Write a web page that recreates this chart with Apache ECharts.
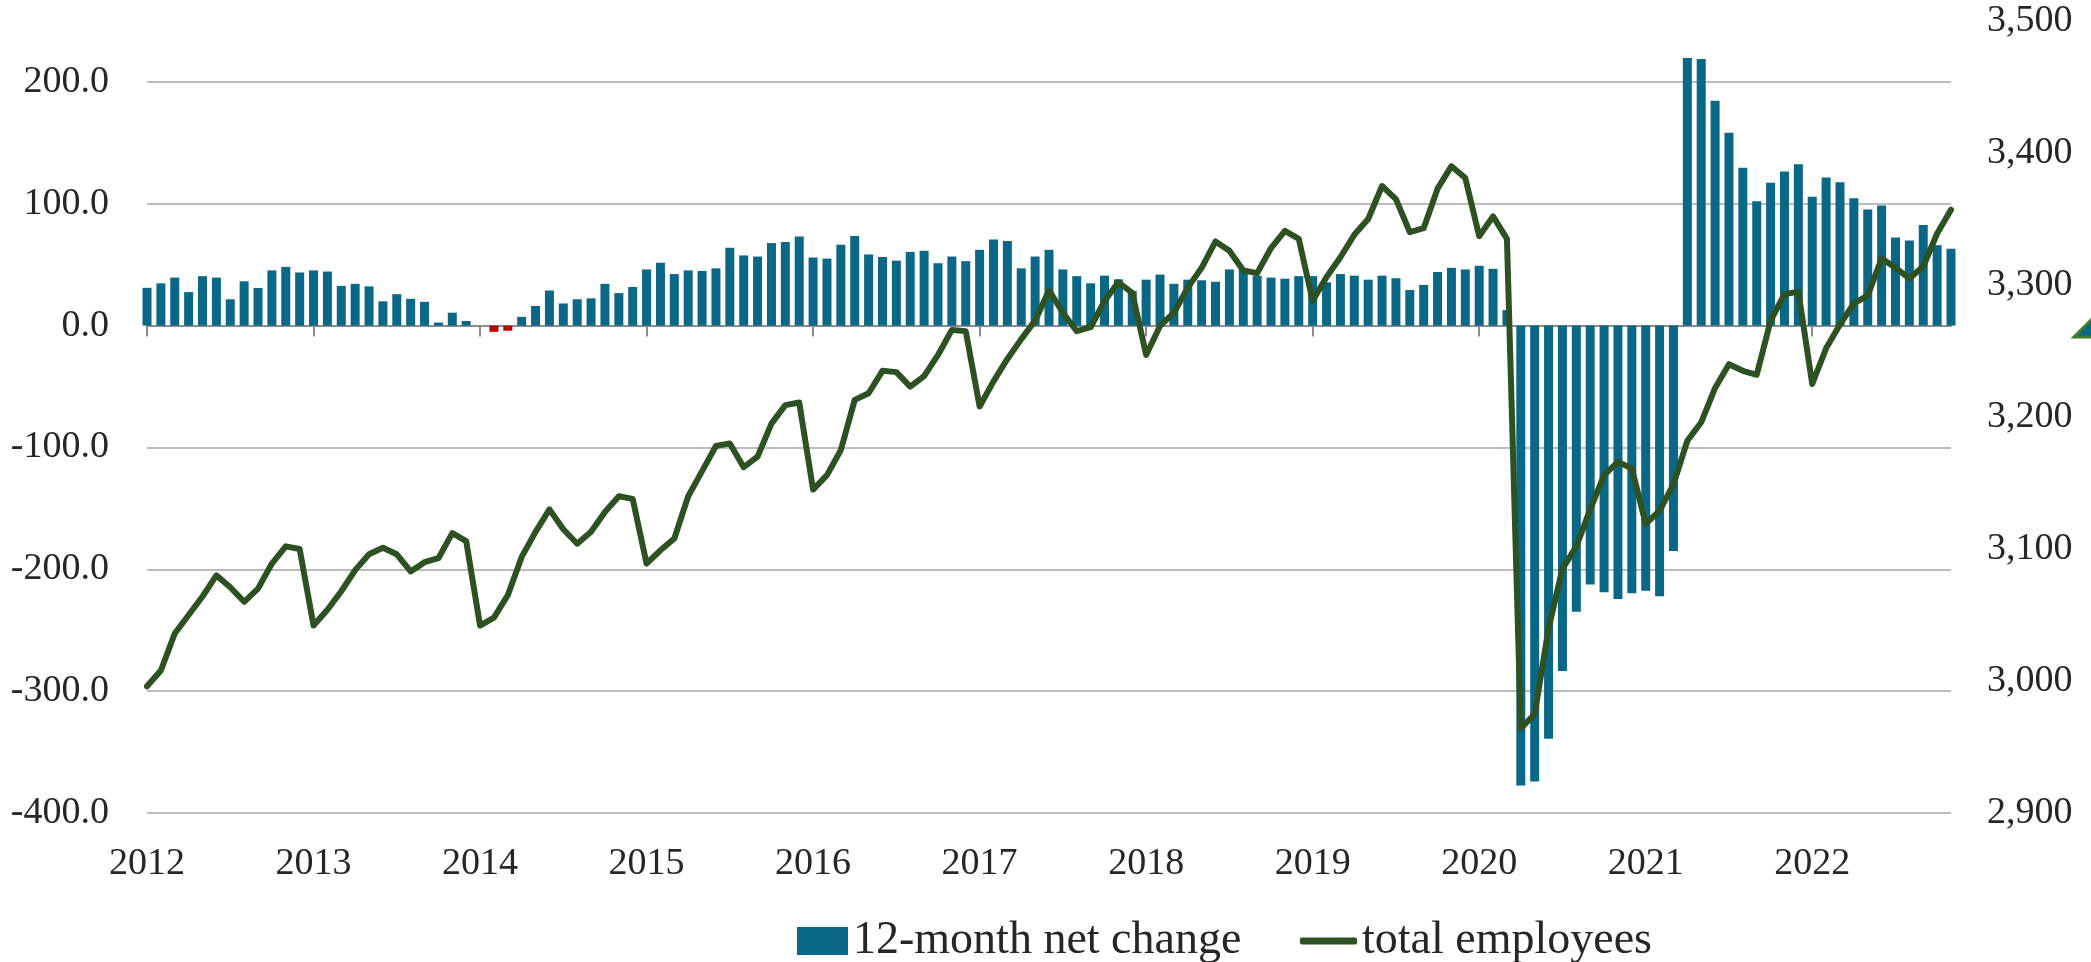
<!DOCTYPE html>
<html>
<head>
<meta charset="utf-8">
<title>employees</title>
<script src="https://cdn.jsdelivr.net/npm/echarts@6/dist/echarts.min.js"></script>
<style>
  html, body { margin: 0; padding: 0; background: #fff; }
  #chart { width: 2091px; height: 962px; }
</style>
</head>
<body>
<div id="chart"></div>
<script>
// monthly, Jan 2012 .. Nov 2022
var months = [];
for (var y = 2012; y <= 2022; y++) {
  for (var m = 1; m <= 12; m++) {
    if (y === 2022 && m > 11) break;
    months.push(y + '-' + (m < 10 ? '0' + m : m));
  }
}

// 12-month net change (left axis)
var netChange = [
  31.0, 34.7, 39.4, 27.5, 40.6, 39.4, 21.6, 36.4, 30.9, 45.3, 48.2, 43.6,
  45.3, 44.4, 32.6, 34.3, 32.2, 19.9, 25.8, 22.0, 19.5, 2.5, 10.6, 3.8,
  0, -5.1, -4.2, 7.2, 16.1, 28.8, 18.2, 21.6, 22.4, 34.3, 26.7, 31.7,
  46.1, 51.6, 42.3, 45.3, 44.9, 47.0, 63.9, 57.6, 56.7, 67.7, 68.6, 73.2,
  55.9, 55.0, 66.4, 73.6, 58.4, 56.3, 53.3, 60.5, 61.4, 51.2, 56.7, 52.9,
  62.2, 70.7, 69.4, 47.0, 56.7, 62.2, 46.1, 40.6, 34.7, 41.0, 38.0, 28.4,
  37.7, 41.9, 34.3, 37.7, 37.2, 36.0, 46.1, 46.1, 41.0, 39.4, 38.5, 40.6,
  40.6, 35.5, 42.3, 41.0, 37.7, 41.0, 38.9, 29.2, 33.4, 44.0, 47.4, 46.1,
  49.1, 46.6, 12.7, -377.5, -374.1, -339.0, -283.5, -234.9, -212.4, -218.8, -224.3, -219.6,
  -217.5, -222.2, -184.9, 219.6, 218.8, 184.5, 158.3, 129.5, 102.0, 117.2, 126.5, 132.5,
  105.8, 121.5, 117.6, 104.5, 95.2, 98.6, 72.4, 69.8, 82.5, 66.0, 63.1
];

// total employees (right axis)
var totalEmployees = [
  2996, 3008, 3036, 3050, 3064, 3080, 3071, 3060, 3070, 3089, 3102, 3100,
  3042, 3054, 3068, 3084, 3096, 3101, 3096, 3083, 3090, 3093, 3112, 3106,
  3042, 3048, 3065, 3094, 3113, 3130, 3115, 3104, 3113, 3128, 3140, 3138,
  3089, 3099, 3108, 3140, 3159, 3178, 3180, 3162, 3170, 3195, 3209, 3211,
  3145, 3156, 3175, 3213, 3218, 3235, 3234, 3223, 3231, 3247, 3266, 3265,
  3208, 3227, 3244, 3259, 3273, 3296, 3279, 3265, 3268, 3288, 3302, 3294,
  3247, 3269, 3279, 3298, 3313, 3333, 3326, 3311, 3309, 3328, 3341, 3335,
  3288, 3306, 3321, 3338, 3350, 3375, 3365, 3340, 3343, 3373, 3390, 3381,
  3337, 3352, 3335, 2964, 2975, 3040, 3085, 3102, 3130, 3156, 3166, 3161,
  3119, 3129, 3149, 3182, 3196, 3222, 3240, 3235, 3232, 3273, 3293, 3295,
  3225, 3252, 3270, 3286, 3292, 3320, 3313, 3305, 3314, 3339, 3357
];

// bars drawn red in the original (early 2014 dip)
var redBars = [25, 26];

var leftTicks = { min: -400, max: 250, interval: 100 };
var rightTicks = { min: 2900, max: 3500, interval: 100 };

var FONT = 'Liberation Serif';
var TEXT = '#262626';
var BLUE = '#0B6786';
var RED = '#C00000';
var GREEN = '#2E5123';

var barData = netChange.map(function (v, i) {
  if (redBars.indexOf(i) >= 0) {
    return { value: v, itemStyle: { color: RED } };
  }
  return v;
});

var option = {
  animation: false,
  backgroundColor: '#fff',
  grid: { left: 147, right: 140, top: 21, bottom: 149 },
  legend: [
    {
      data: [{ name: '12-month net change', icon: 'rect' }],
      left: 797, top: 918, padding: 0,
      itemWidth: 51, itemHeight: 28,
      textStyle: { fontFamily: FONT, fontSize: 46, color: TEXT }
    },
    {
      // thick rounded stroke like the original's line key
      data: [{ name: 'total employees', icon: 'roundRect' }],
      left: 1300, top: 918, padding: 0,
      itemWidth: 57, itemHeight: 7,
      itemStyle: { color: GREEN, borderWidth: 0 },
      textStyle: { fontFamily: FONT, fontSize: 46, color: TEXT }
    }
  ],
  xAxis: [
    {
      // axis line + year ticks on the zero line
      type: 'category',
      data: months,
      boundaryGap: false,
      position: 'bottom',
      axisLine: { onZero: true, onZeroAxisIndex: 0, lineStyle: { color: '#8C8C8C', width: 2 } },
      axisTick: {
        length: 11,
        interval: function (i) { return i % 12 === 0; },
        lineStyle: { color: '#8C8C8C', width: 2 }
      },
      axisLabel: { show: false },
      splitLine: { show: false }
    },
    {
      // year labels along the bottom
      type: 'category',
      data: months,
      boundaryGap: false,
      position: 'bottom',
      axisLine: { show: false, onZero: false },
      axisTick: { show: false },
      axisLabel: {
        interval: function (i) { return i % 12 === 0; },
        formatter: function (v) { return v.slice(0, 4); },
        fontFamily: FONT, fontSize: 38, color: TEXT, margin: 32
      },
      splitLine: { show: false }
    }
  ],
  yAxis: [
    {
      type: 'value',
      min: leftTicks.min, max: leftTicks.max, interval: leftTicks.interval,
      axisLine: { show: false },
      axisTick: { show: false },
      axisLabel: {
        fontFamily: FONT, fontSize: 38, color: TEXT, margin: 38,
        formatter: function (v) { return v > 200 ? '' : v.toFixed(1); }
      },
      splitLine: { show: true, showMaxLine: false, lineStyle: { color: '#A6A6A6', width: 1.5 } }
    },
    {
      type: 'value',
      min: rightTicks.min, max: rightTicks.max, interval: rightTicks.interval,
      position: 'right',
      axisLine: { show: false },
      axisTick: { show: false },
      axisLabel: {
        fontFamily: FONT, fontSize: 38, color: TEXT, margin: 36,
        formatter: function (v) { return v.toLocaleString('en-US'); }
      },
      splitLine: { show: false }
    }
  ],
  series: [
    {
      name: '12-month net change',
      type: 'bar',
      xAxisIndex: 0, yAxisIndex: 0,
      barWidth: 9,
      clip: true,
      itemStyle: { color: BLUE },
      data: barData
    },
    {
      name: 'total employees',
      type: 'line',
      xAxisIndex: 0, yAxisIndex: 1,
      symbol: 'none',
      lineStyle: { color: GREEN, width: 6, cap: 'round', join: 'round' },
      itemStyle: { color: GREEN },
      data: totalEmployees
    }
  ],
  graphic: [
    {
      // little marker cut off at the right edge
      type: 'polygon',
      shape: { points: [[2074, 337], [2095, 316], [2095, 337]] },
      style: { fill: BLUE, stroke: '#3C7F2C', lineWidth: 3 }
    }
  ]
};

var myChart = echarts.init(document.getElementById('chart'));
myChart.setOption(option);
</script>
</body>
</html>
